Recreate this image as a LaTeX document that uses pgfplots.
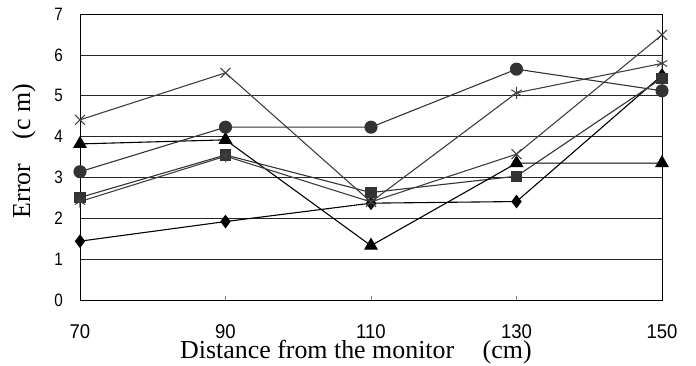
\documentclass[border=0pt]{standalone}
\usepackage{fontspec}
\setmainfont{Liberation Serif}
\setsansfont{Liberation Sans}
\newfontfamily\xtickfont[FakeStretch=0.93]{Liberation Sans}
\newfontfamily\ytickfont[FakeStretch=0.85]{Liberation Sans}
\usepackage{pgfplots}
\pgfplotsset{compat=1.18}
\definecolor{dg}{HTML}{333333}
\definecolor{mg}{HTML}{404040}
\begin{document}
\begin{tikzpicture}[x=1bp,y=1bp]
\useasboundingbox (-80,-65) rectangle (616,300);
\begin{axis}[
  at={(0,0)}, anchor=south west,
  scale only axis, width=582bp, height=286bp,
  xmin=70, xmax=150, ymin=0, ymax=7,
  xtick={70,90,110,130,150}, ytick={0,1,...,7},
  /pgf/number format/assume math mode=true,
  xticklabel style={font=\xtickfont\fontsize{20}{22}\selectfont, anchor=base, yshift=-38bp},
  yticklabel style={font=\ytickfont\fontsize{18}{20}\selectfont, anchor=east, inner sep=0pt, xshift=-17bp},
  xtick pos=bottom, tick align=inside, major tick length=4bp,
  ytick style={draw=none},
  ymajorgrids, grid style={black!85, line width=0.7bp},
  axis line style={black, line width=0.9bp},
  xlabel={Distance from the monitor\hspace{1.1em}(cm)},
  xlabel style={font=\fontsize{26}{28}\selectfont, at={(axis description cs:0.474,0)}, anchor=base, yshift=-58bp},
  ylabel={Error\hspace{0.95em}(c m)},
  ylabel style={font=\fontsize{26}{28}\selectfont, at={(axis description cs:-0.0962,0.521)}, anchor=center},
  every axis plot/.append style={line width=1.1bp},
  clip=false,
]
\addplot[black, mark=diamond*, mark size=6bp, mark options={fill=black}] coordinates {(70,1.44) (90,1.92) (110,2.37) (130,2.41) (150,5.5)};
\addplot[dg, mark=square*, mark size=5bp, mark options={fill=dg}] coordinates {(70,2.51) (90,3.55) (110,2.63) (130,3.03) (150,5.43)};
\addplot[black, mark=triangle*, mark size=7bp, mark options={fill=black}] coordinates {(70,3.82) (90,3.92) (110,1.33) (130,3.35) (150,3.35)};
\addplot[mg, mark=x, mark size=7bp, mark options={line width=1bp}] coordinates {(70,4.41) (90,5.56) (110,2.4) (130,3.57) (150,6.49)};
\addplot[mg, mark=asterisk, mark size=6bp, mark options={line width=1bp}] coordinates {(70,2.41) (90,3.52) (110,2.4) (130,5.07) (150,5.79)};
\addplot[dg, mark=*, mark size=6bp, mark options={fill=dg}] coordinates {(70,3.14) (90,4.23) (110,4.23) (130,5.65) (150,5.12)};
\end{axis}
\end{tikzpicture}
\end{document}
